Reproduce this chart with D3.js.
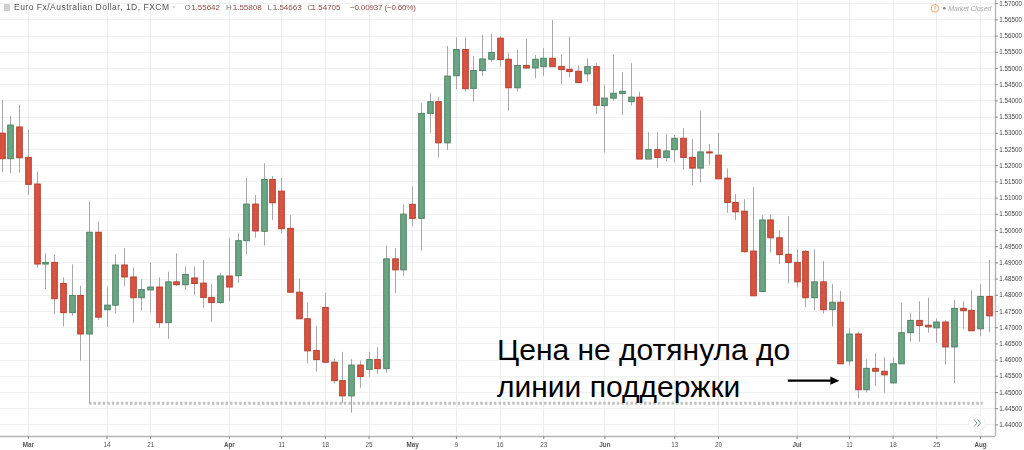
<!DOCTYPE html>
<html><head><meta charset="utf-8">
<style>
html,body{margin:0;padding:0;background:#fff;width:1024px;height:450px;overflow:hidden}
svg{display:block;position:absolute;left:0;top:0}
#chart{filter:blur(0.35px)}
</style>
<script src="https://cdnjs.cloudflare.com/ajax/libs/d3/7.8.5/d3.min.js"></script>
</head><body>
<script>
// Trading-day index of the first bar is -3; index 0 is 1 March.
const firstIndex = -3;
const openPrice = [1.5299,1.5220,1.5318,1.5224,1.5142,1.4895,1.4900,1.4835,1.4745,1.4798,1.4679,1.4993,1.4754,1.4768,1.4892,1.4855,1.4791,1.4815,1.4824,1.4714,1.4840,1.4831,1.4852,1.4836,1.4792,1.4776,1.4858,1.4859,1.4967,1.5080,1.4996,1.5156,1.5120,1.5005,1.4808,1.4726,1.4628,1.4761,1.4592,1.4535,1.4488,1.4583,1.4570,1.4600,1.4572,1.4911,1.4877,1.5079,1.5036,1.5360,1.5396,1.5269,1.5476,1.5557,1.5437,1.5492,1.5527,1.5592,1.5527,1.5439,1.5508,1.5500,1.5504,1.5530,1.5505,1.5496,1.5490,1.5482,1.5504,1.5384,1.5407,1.5421,1.5396,1.5410,1.5219,1.5248,1.5224,1.5248,1.5283,1.5224,1.5191,1.5241,1.5231,1.5160,1.5085,1.5058,1.4935,1.4810,1.5031,1.4976,1.4925,1.4900,1.4934,1.4791,1.4840,1.4754,1.4777,1.4596,1.4679,1.4507,1.4573,1.4564,1.4528,1.4587,1.4683,1.4721,1.4706,1.4698,1.4716,1.4639,1.4758,1.4752,1.4695,1.4795];
const highPrice = [1.5401,1.5352,1.5386,1.5311,1.5180,1.4928,1.4925,1.4854,1.4894,1.4828,1.5087,1.5026,1.4823,1.4925,1.4944,1.4884,1.4849,1.4899,1.4854,1.4871,1.4928,1.4888,1.4888,1.4907,1.4834,1.4868,1.4976,1.4990,1.5160,1.5108,1.5206,1.5167,1.5161,1.5046,1.4849,1.4777,1.4704,1.4806,1.4604,1.4624,1.4601,1.4597,1.4624,1.4638,1.4952,1.4944,1.5079,1.5134,1.5391,1.5424,1.5411,1.5568,1.5595,1.5595,1.5537,1.5602,1.5605,1.5599,1.5547,1.5556,1.5589,1.5540,1.5561,1.5648,1.5542,1.5597,1.5508,1.5530,1.5515,1.5448,1.5543,1.5487,1.5515,1.5427,1.5302,1.5302,1.5295,1.5293,1.5314,1.5281,1.5367,1.5265,1.5300,1.5190,1.5111,1.5095,1.5132,1.5046,1.5048,1.5000,1.5043,1.4941,1.4938,1.4940,1.4904,1.4833,1.4812,1.4697,1.4686,1.4601,1.4620,1.4607,1.4607,1.4776,1.4743,1.4780,1.4792,1.4727,1.4722,1.4784,1.4780,1.4814,1.4833,1.4908];
const lowPrice = [1.5179,1.5176,1.5177,1.5108,1.4884,1.4818,1.4740,1.4702,1.4735,1.4597,1.4465,1.4723,1.4700,1.4742,1.4827,1.4714,1.4751,1.4745,1.4698,1.4664,1.4828,1.4815,1.4799,1.4760,1.4717,1.4772,1.4781,1.4837,1.4925,1.4976,1.4952,1.5031,1.4991,1.4808,1.4725,1.4589,1.4563,1.4589,1.4526,1.4465,1.4436,1.4513,1.4547,1.4556,1.4560,1.4806,1.4859,1.5012,1.4936,1.5300,1.5223,1.5247,1.5435,1.5427,1.5396,1.5476,1.5519,1.5504,1.5368,1.5427,1.5497,1.5468,1.5475,1.5504,1.5451,1.5471,1.5453,1.5458,1.5358,1.5239,1.5399,1.5355,1.5384,1.5219,1.5219,1.5192,1.5213,1.5208,1.5187,1.5139,1.5146,1.5201,1.5158,1.5053,1.5031,1.4930,1.4797,1.4810,1.4931,1.4895,1.4835,1.4823,1.4761,1.4753,1.4742,1.4702,1.4587,1.4581,1.4481,1.4499,1.4519,1.4498,1.4526,1.4587,1.4655,1.4655,1.4683,1.4652,1.4584,1.4528,1.4695,1.4688,1.4672,1.4686];
const closePrice = [1.5220,1.5324,1.5223,1.5141,1.4895,1.4900,1.4788,1.4745,1.4798,1.4679,1.4993,1.4731,1.4768,1.4892,1.4855,1.4791,1.4816,1.4824,1.4714,1.4840,1.4831,1.4863,1.4835,1.4792,1.4776,1.4858,1.4824,1.4967,1.5080,1.4997,1.5156,1.5084,1.5004,1.4808,1.4726,1.4627,1.4600,1.4592,1.4535,1.4488,1.4583,1.4548,1.4600,1.4572,1.4911,1.4877,1.5049,1.5036,1.5360,1.5396,1.5269,1.5475,1.5557,1.5436,1.5492,1.5528,1.5548,1.5526,1.5439,1.5508,1.5500,1.5527,1.5530,1.5504,1.5495,1.5489,1.5455,1.5504,1.5385,1.5407,1.5422,1.5428,1.5410,1.5219,1.5248,1.5224,1.5244,1.5283,1.5224,1.5191,1.5241,1.5239,1.5158,1.5085,1.5056,1.4933,1.4797,1.5031,1.4976,1.4924,1.4900,1.4840,1.4791,1.4840,1.4754,1.4777,1.4587,1.4679,1.4507,1.4573,1.4564,1.4553,1.4587,1.4683,1.4721,1.4705,1.4701,1.4716,1.4639,1.4758,1.4751,1.4689,1.4795,1.4735];
const priceTicks = [1.57,1.565,1.56,1.555,1.55,1.545,1.54,1.535,1.53,1.525,1.52,1.515,1.51,1.505,1.5,1.495,1.49,1.485,1.48,1.475,1.47,1.465,1.46,1.455,1.45,1.445,1.44];
const dateTickIndex = [0,9,14,23,29,34,39,44,49,54,59,66,74,79,88,94,99,104,109];
const dateTickLabels = ["Mar","14","21","Apr","11","18","25","May","9","16","23","Jun","13","20","Jul","11","18","25","Aug"];
const monthLabels = ["Mar","Apr","May","Jun","Jul","Aug"];
const supportLevel = 1.4465, supportFrom = 7, supportTo = 109.3;
const arrowPrice = 1.4535, arrowFrom = 87, arrowTo = 92.9;
const noteLines = ["Цена не дотянула до","линии поддержки"];
const quoteLetters = ["O","H","L","C"];
const quoteValues = ["1.55642","1.55808","1.54663","1.54705"];

const W = 1024, H = 450, axisX = 995, axisY = 436;
const sans = "Liberation Sans, Arial, sans-serif";
const x = d3.scaleLinear().domain([0,109]).range([27.9,980]);
const y = d3.scaleLinear().domain([1.44,1.57]).range([424.4,3.2]);

const svg = d3.select("body").append("svg").attr("id","chart").attr("width",W).attr("height",H);

// grid
svg.append("g").selectAll("line").data(priceTicks).join("line")
  .attr("x1",0).attr("x2",axisX).attr("y1",d=>Math.round(y(d))+.5).attr("y2",d=>Math.round(y(d))+.5)
  .attr("stroke","#f0f0f0");
svg.append("g").selectAll("line").data(dateTickIndex).join("line")
  .attr("x1",d=>Math.round(x(d))+.5).attr("x2",d=>Math.round(x(d))+.5).attr("y1",0).attr("y2",axisY)
  .attr("stroke","#eeeeee");

// support line
svg.append("line")
  .attr("x1",x(supportFrom)).attr("x2",x(supportTo)).attr("y1",y(supportLevel)).attr("y2",y(supportLevel))
  .attr("stroke","#c0c0c0").attr("stroke-width",3).attr("stroke-dasharray","2.5 2.05");

// candles
const bars = openPrice.map((o,k)=>({i:firstIndex+k,o,h:highPrice[k],l:lowPrice[k],c:closePrice[k]}));
const G = svg.append("g").selectAll("g").data(bars).join("g");
G.append("line")
  .attr("x1",d=>Math.round(x(d.i))+.5).attr("x2",d=>Math.round(x(d.i))+.5)
  .attr("y1",d=>y(d.h)).attr("y2",d=>y(d.l))
  .attr("stroke","#a8a8a8").attr("stroke-width",1);
G.append("rect")
  .attr("x",d=>Math.round(x(d.i))-2.3).attr("width",5.6)
  .attr("y",d=>y(Math.max(d.o,d.c)))
  .attr("height",d=>Math.max(1,Math.abs(y(d.o)-y(d.c))))
  .attr("fill",d=>d.c>=d.o?"#6ba583":"#d75442")
  .attr("stroke",d=>d.c>=d.o?"#4f8468":"#b8402f").attr("stroke-width",1);

// axes
const yAxis = d3.axisRight(y).tickValues(priceTicks).tickFormat(d3.format(".5f")).tickSize(3).tickPadding(1.3);
const gy = svg.append("g").attr("transform",`translate(${axisX},0)`).call(yAxis);
gy.select(".domain").attr("d",`M0.5,0V${axisY}`).attr("stroke","#b5b5b5").attr("stroke-width",1.4);
gy.selectAll(".tick line").attr("stroke","#8a8a8a");
gy.selectAll("text").attr("font-family",sans).attr("font-size",6.3).attr("fill","#444");

const xAxis = d3.axisBottom(x).tickValues(dateTickIndex).tickFormat((d,k)=>dateTickLabels[k]).tickSize(3).tickPadding(4);
const gx = svg.append("g").attr("transform",`translate(0,${axisY})`).call(xAxis);
gx.select(".domain").attr("d",`M0,0.5H${axisX}`).attr("stroke","#b5b5b5").attr("stroke-width",1.4);
gx.selectAll(".tick line").attr("stroke","#8a8a8a");
gx.selectAll("text").attr("font-family",sans).attr("font-size",6.3)
  .attr("font-weight",(d,k)=>monthLabels.includes(dateTickLabels[k])?"bold":"normal").attr("fill","#555");

// header
svg.append("rect").attr("x",4).attr("y",4).attr("width",6).attr("height",7).attr("fill","#cfcfd4");
svg.append("text").attr("x",14).attr("y",10.4).attr("font-family",sans).attr("font-size",8.5)
  .attr("textLength",155).attr("lengthAdjust","spacing").attr("fill","#555").text("Euro Fx/Australian Dollar, 1D, FXCM");
svg.append("path").attr("d","M172.5,6.5h3l-1.5,1.8z").attr("fill","#bbb");
const quoteLetterX = [184.5,226,267.5,307.3], quoteValueX = [191,232.7,272.7,311.5];
const q = svg.append("g").attr("font-family",sans).attr("font-size",8);
quoteLetters.forEach((a,k)=>{
  q.append("text").attr("y",10.4).attr("x",quoteLetterX[k]).attr("fill","#777").text(a);
  q.append("text").attr("y",10.4).attr("x",quoteValueX[k]).attr("textLength",29).attr("lengthAdjust","spacing").attr("fill","#8f4a42").text(quoteValues[k]);
});
q.append("text").attr("y",10.4).attr("x",350).attr("textLength",66).attr("lengthAdjust","spacing").attr("fill","#8f4a42").text("−0.00937 (−0.60%)");

// market status
svg.append("circle").attr("cx",935).attr("cy",8.3).attr("r",3.8).attr("fill","#fff").attr("stroke","#f5a56b").attr("stroke-width",1);
svg.append("line").attr("x1",935).attr("x2",935).attr("y1",6).attr("y2",9.5).attr("stroke","#f5a56b");
svg.append("circle").attr("cx",944.3).attr("cy",8.3).attr("r",1.3).attr("fill","#888");
svg.append("text").attr("x",948.3).attr("y",10.8).attr("font-family",sans).attr("font-style","italic")
  .attr("font-size",7).attr("textLength",43).attr("lengthAdjust","spacing").attr("fill","#aaa").text("Market Closed");

// navigation button
svg.append("circle").attr("cx",977).attr("cy",423).attr("r",8.5).attr("fill","#fff").attr("stroke","#f0f0f0");
svg.append("path").attr("d","M974,419.5l3,3.5l-3,3.5M977.5,419.5l3,3.5l-3,3.5").attr("fill","none").attr("stroke","#7d93ad").attr("stroke-width",1);

// annotation (sharp, on top)
const noteSvg = d3.select("body").append("svg").attr("width",W).attr("height",H);
const noteY = [360,396.5];
noteSvg.selectAll("text").data(noteLines).join("text")
  .attr("x",497).attr("y",(d,k)=>noteY[k])
  .attr("font-family",sans).attr("font-size",30).attr("fill","#000").text(d=>d);
noteSvg.append("line").attr("x1",x(arrowFrom)).attr("x2",x(arrowTo)-6).attr("y1",y(arrowPrice)).attr("y2",y(arrowPrice)).attr("stroke","#000").attr("stroke-width",2.4);
noteSvg.append("path").attr("d",d3.line()([[x(arrowTo),y(arrowPrice)],[x(arrowTo)-9,y(arrowPrice)-4.2],[x(arrowTo)-9,y(arrowPrice)+4.2]])+"Z").attr("fill","#000");
</script>
</body></html>
